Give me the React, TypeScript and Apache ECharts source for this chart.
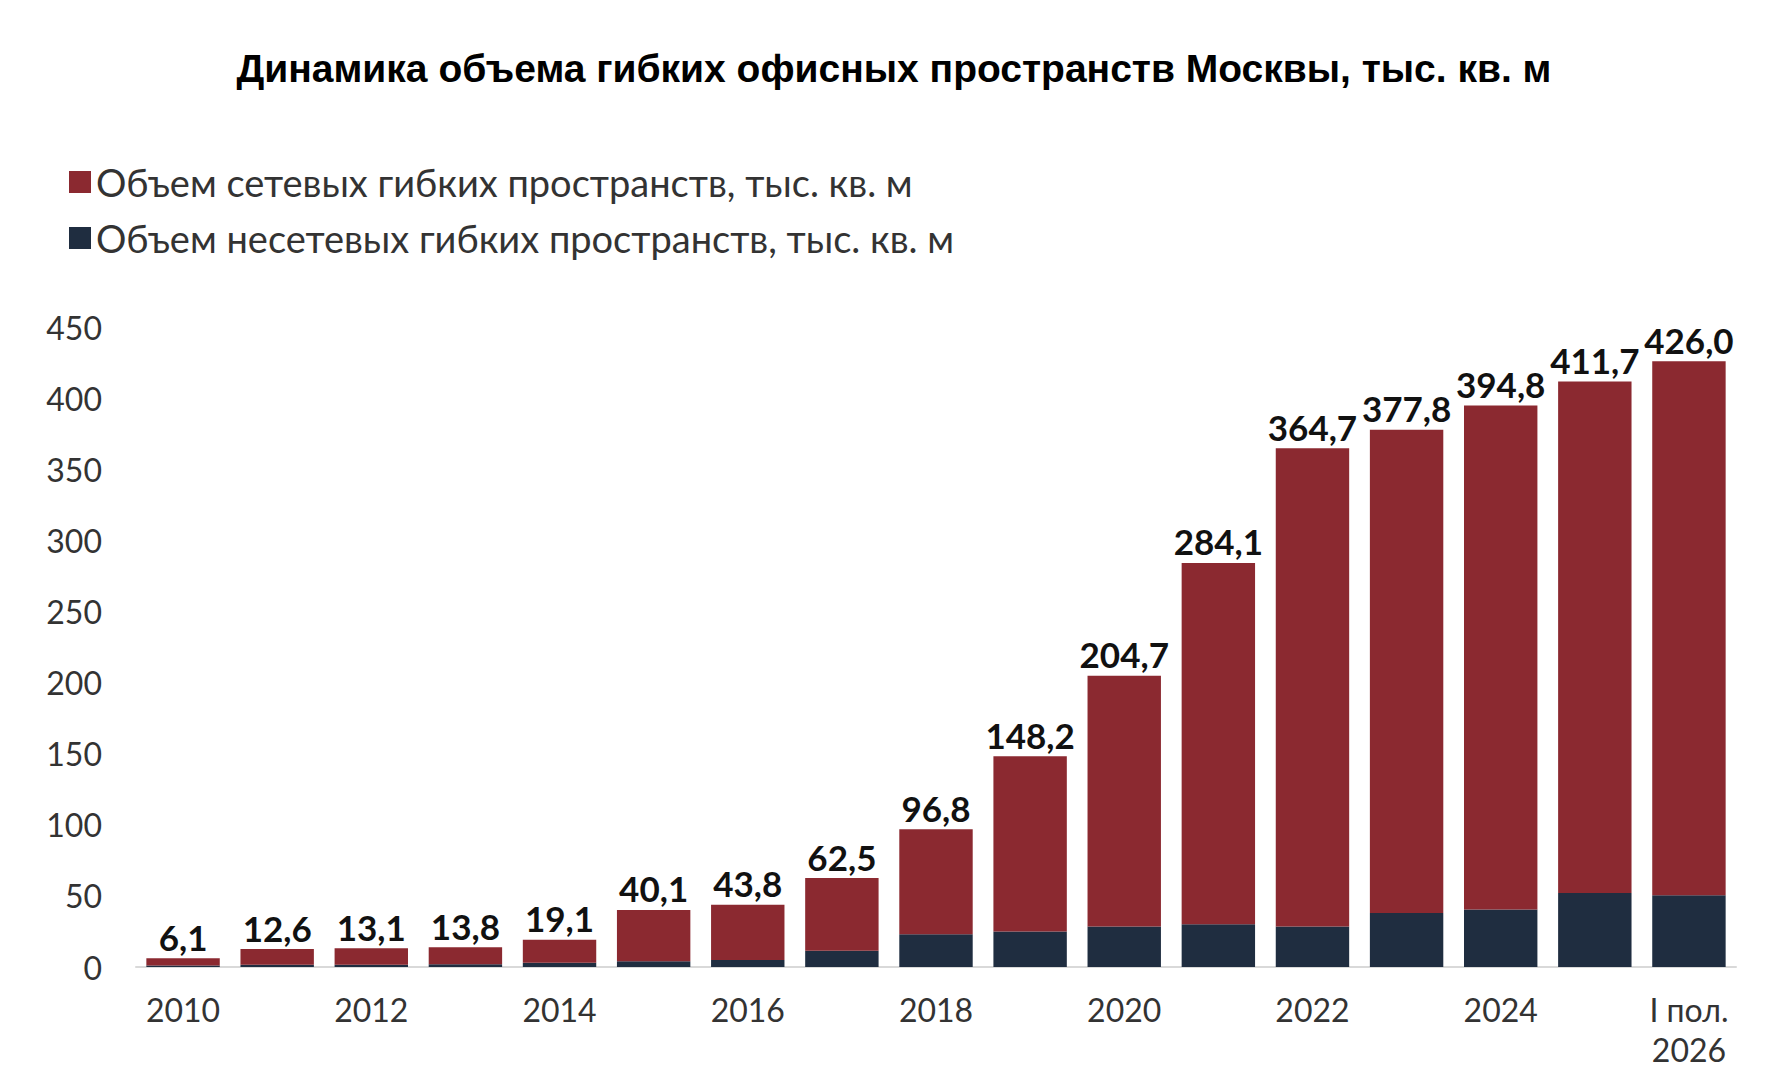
import { useEffect, useRef } from "react";
import * as echarts from "echarts";

const categories = ["2010", "2011", "2012", "2013", "2014", "2015", "2016", "2017", "2018", "2019", "2020", "2021", "2022", "2023", "2024", "2025", "I пол.\n2026"];
const totals = [6.1, 12.6, 13.1, 13.8, 19.1, 40.1, 43.8, 62.5, 96.8, 148.2, 204.7, 284.1, 364.7, 377.8, 394.8, 411.7, 426.0];
const nonNetwork = [1, 1.5, 1.5, 2, 3, 4, 5, 11.5, 23, 25, 28.5, 30, 28.5, 38, 40.5, 52, 50.5];
const network = totals.map((t, i) => +(t - nonNetwork[i]).toFixed(1));

const font = "Lato, 'Noto Sans', sans-serif";

export default function App() {
  const ref = useRef<HTMLDivElement>(null);

  useEffect(() => {
    if (!ref.current) return;
    const chart = echarts.init(ref.current, null, { renderer: "svg" });
    chart.setOption({
      animation: false,
      title: {
        text: "Динамика объема гибких офисных пространств Москвы, тыс. кв. м",
        left: "center",
        top: 36,
        textStyle: { fontFamily: "'Liberation Sans', Arial, sans-serif", fontWeight: "bold", fontSize: 39, color: "#000" },
      },
      legend: {
        orient: "vertical",
        left: 56,
        top: 150,
        itemWidth: 22,
        itemHeight: 22,
        itemGap: 18,
        icon: "rect",
        textStyle: { fontFamily: font, fontSize: 38, color: "#333" },
        data: ["Объем сетевых гибких пространств, тыс. кв. м", "Объем несетевых гибких пространств, тыс. кв. м"],
      },
      grid: { left: 128, right: 44, top: 319, bottom: 105 },
      xAxis: {
        type: "category",
        data: categories,
        axisTick: { show: false },
        axisLine: { lineStyle: { color: "#d9d9d9", width: 2 } },
        axisLabel: { fontFamily: font, fontSize: 32, color: "#333", margin: 22, lineHeight: 40, align: "center" },
      },
      yAxis: {
        type: "value",
        min: 0,
        max: 450,
        interval: 50,
        splitLine: { show: false },
        axisLabel: { fontFamily: font, fontSize: 32, color: "#333", margin: 34 },
      },
      series: [
        {
          name: "Объем несетевых гибких пространств, тыс. кв. м",
          type: "bar",
          stack: "a",
          data: nonNetwork,
          itemStyle: { color: "#1f2d40" },
          barCategoryGap: "22%",
        },
        {
          name: "Объем сетевых гибких пространств, тыс. кв. м",
          type: "bar",
          stack: "a",
          data: network,
          itemStyle: { color: "#8b2930" },
          label: {
            show: true,
            position: "top",
            distance: 4,
            fontFamily: font,
            fontWeight: "bold",
            fontSize: 35,
            color: "#111",
            formatter: (p: { dataIndex: number }) => totals[p.dataIndex].toFixed(1).replace(".", ","),
          },
        },
      ],
    });
    return () => chart.dispose();
  }, []);

  return <div ref={ref} style={{ width: 1772, height: 1064 }} />;
}
